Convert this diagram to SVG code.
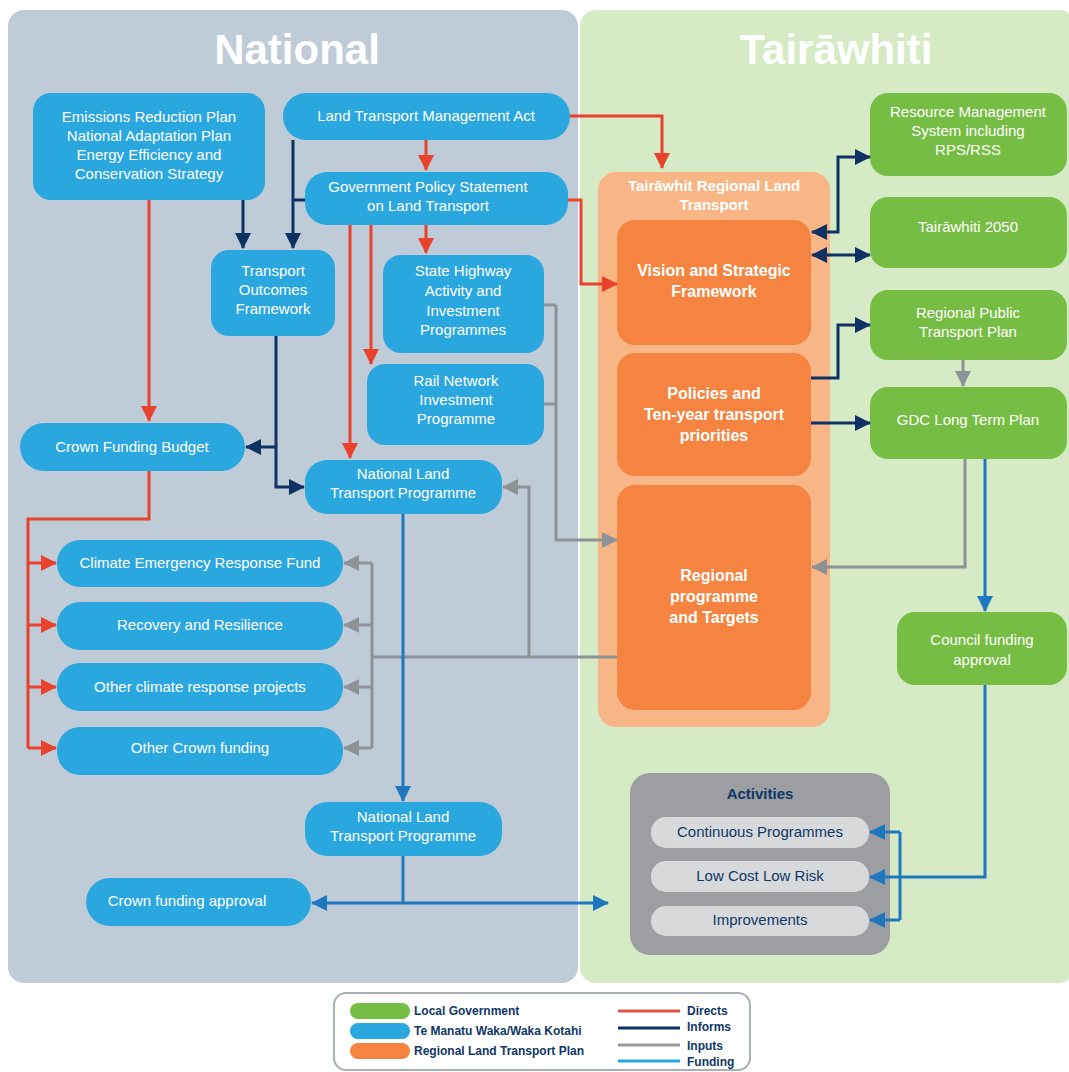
<svg xmlns="http://www.w3.org/2000/svg" width="1069" height="1072" viewBox="0 0 1069 1072">
<style>
text{font-family:"Liberation Sans Narrow","Liberation Sans","DejaVu Sans Condensed",sans-serif;text-anchor:middle}
.t{fill:#fff;font-size:15px}
.tb{fill:#fff;font-size:16px;font-weight:bold}
.title{fill:#fff;font-size:42px;font-weight:bold}
.blue{fill:#2aa7df}
.green{fill:#76bd43}
.orange{fill:#f4843f}
.act{fill:#0f3766;font-size:15px}
.lg{fill:#0f3766;font-size:12px;font-weight:bold;text-anchor:start}
.c{fill:none;stroke-width:3}
.r{stroke:#e8412c}
.n{stroke:#0d3263}
.g{stroke:#8d9297}
.f{stroke:#1e78c0}
</style>
<defs>
<marker id="ar" markerUnits="userSpaceOnUse" markerWidth="16" markerHeight="16" refX="15" refY="8" orient="auto"><path d="M0,0 L16,8 L0,16 z" fill="#e8412c"/></marker>
<marker id="an" markerUnits="userSpaceOnUse" markerWidth="16" markerHeight="16" refX="15" refY="8" orient="auto-start-reverse"><path d="M0,0 L16,8 L0,16 z" fill="#0d3263"/></marker>
<marker id="ag" markerUnits="userSpaceOnUse" markerWidth="16" markerHeight="16" refX="15" refY="8" orient="auto"><path d="M0,0 L16,8 L0,16 z" fill="#8d9297"/></marker>
<marker id="af" markerUnits="userSpaceOnUse" markerWidth="16" markerHeight="16" refX="15" refY="8" orient="auto-start-reverse"><path d="M0,0 L16,8 L0,16 z" fill="#1e78c0"/></marker>
</defs>
<rect width="1069" height="1072" fill="#fff"/>
<g id="panels">
<rect x="8" y="10" width="570" height="973" rx="16" fill="#bfccd8"/>
<rect x="580" y="10" width="495" height="973" rx="16" fill="#d5eac5"/>
<text class="title" x="297" y="64">National</text>
<text class="title" x="836" y="64">Tairāwhiti</text>
</g>
<g id="rltp">
<rect x="598" y="172" width="232" height="555" rx="18" fill="#f8b585"/>
<text class="t" x="714" y="191" font-weight="bold" font-size="14">Tairāwhit Regional Land</text>
<text class="t" x="714" y="210" font-weight="bold" font-size="14">Transport</text>
</g>
<g id="emissions"><rect class="blue" x="33" y="93" width="232" height="107" rx="18"/>
<text class="t" x="149" y="122">Emissions Reduction Plan</text><text class="t" x="149" y="141">National Adaptation Plan</text><text class="t" x="149" y="160">Energy Efficiency and</text><text class="t" x="149" y="179">Conservation Strategy</text></g>
<g id="ltma"><rect class="blue" x="283" y="93" width="287" height="47" rx="23"/>
<text class="t" x="426" y="121">Land Transport Management Act</text></g>
<g id="gps"><rect class="blue" x="305" y="172" width="263" height="53" rx="22"/>
<text class="t" x="428" y="192">Government Policy Statement</text><text class="t" x="428" y="211">on Land Transport</text></g>
<g id="tof"><rect class="blue" x="211" y="250" width="124" height="86" rx="18"/>
<text class="t" x="273" y="276">Transport</text><text class="t" x="273" y="295">Outcomes</text><text class="t" x="273" y="314">Framework</text></g>
<g id="sh"><rect class="blue" x="383" y="255" width="161" height="98" rx="18"/>
<text class="t" x="463" y="276">State Highway</text><text class="t" x="463" y="296">Activity and</text><text class="t" x="463" y="316">Investment</text><text class="t" x="463" y="335">Programmes</text></g>
<g id="rail"><rect class="blue" x="367" y="364" width="177" height="81" rx="18"/>
<text class="t" x="456" y="386">Rail Network</text><text class="t" x="456" y="405">Investment</text><text class="t" x="456" y="424">Programme</text></g>
<g id="cfb"><rect class="blue" x="20" y="423" width="225" height="48" rx="24"/>
<text class="t" x="132" y="452">Crown Funding Budget</text></g>
<g id="nltp1"><rect class="blue" x="305" y="460" width="197" height="54" rx="22"/>
<text class="t" x="403" y="479">National Land</text><text class="t" x="403" y="498">Transport Programme</text></g>
<g id="cerf"><rect class="blue" x="57" y="540" width="286" height="47" rx="23"/>
<text class="t" x="200" y="568">Climate Emergency Response Fund</text></g>
<g id="rr"><rect class="blue" x="57" y="602" width="286" height="48" rx="23"/>
<text class="t" x="200" y="630">Recovery and Resilience</text></g>
<g id="ocrp"><rect class="blue" x="57" y="663" width="286" height="48" rx="23"/>
<text class="t" x="200" y="692">Other climate response projects</text></g>
<g id="ocf"><rect class="blue" x="57" y="727" width="286" height="48" rx="23"/>
<text class="t" x="200" y="753">Other Crown funding</text></g>
<g id="nltp2"><rect class="blue" x="305" y="802" width="197" height="54" rx="22"/>
<text class="t" x="403" y="822">National Land</text><text class="t" x="403" y="841">Transport Programme</text></g>
<g id="cfa"><rect class="blue" x="86" y="878" width="225" height="48" rx="24"/>
<text class="t" x="187" y="906">Crown funding approval</text></g>
<g id="vision"><rect class="orange" x="617" y="220" width="194" height="125" rx="18"/>
<text class="tb" x="714" y="276">Vision and Strategic</text><text class="tb" x="714" y="297">Framework</text></g>
<g id="policies"><rect class="orange" x="617" y="353" width="194" height="123" rx="18"/>
<text class="tb" x="714" y="399">Policies and</text><text class="tb" x="714" y="420">Ten-year transport</text><text class="tb" x="714" y="441">priorities</text></g>
<g id="regional"><rect class="orange" x="617" y="485" width="194" height="225" rx="18"/>
<text class="tb" x="714" y="581">Regional</text><text class="tb" x="714" y="602">programme</text><text class="tb" x="714" y="623">and Targets</text></g>
<g id="rms"><rect class="green" x="870" y="93" width="197" height="83" rx="18"/>
<text class="t" x="968" y="117">Resource Management</text><text class="t" x="968" y="136">System including</text><text class="t" x="968" y="155">RPS/RSS</text></g>
<g id="t2050"><rect class="green" x="870" y="197" width="197" height="71" rx="18"/>
<text class="t" x="968" y="232">Tairāwhiti 2050</text></g>
<g id="rptp"><rect class="green" x="870" y="290" width="197" height="70" rx="18"/>
<text class="t" x="968" y="318">Regional Public</text><text class="t" x="968" y="337">Transport Plan</text></g>
<g id="gdc"><rect class="green" x="870" y="387" width="197" height="72" rx="18"/>
<text class="t" x="968" y="425">GDC Long Term Plan</text></g>
<g id="council"><rect class="green" x="897" y="612" width="170" height="73" rx="18"/>
<text class="t" x="982" y="645">Council funding</text><text class="t" x="982" y="665">approval</text></g>
<g id="activities"><rect x="630" y="773" width="260" height="182" rx="20" fill="#9c9ea1"/>
<text class="act" x="760" y="799" font-weight="bold">Activities</text>
<rect x="651" y="817" width="218" height="31" rx="15" fill="#d8d9db"/><text class="act" x="760" y="837">Continuous Programmes</text>
<rect x="651" y="861" width="218" height="31" rx="15" fill="#d8d9db"/><text class="act" x="760" y="881">Low Cost Low Risk</text>
<rect x="651" y="906" width="218" height="30" rx="15" fill="#d8d9db"/><text class="act" x="760" y="925">Improvements</text></g>
<g id="connectors">
<path class="c r" d="M426,140 V170" marker-end="url(#ar)"/>
<path class="c r" d="M570,116 H662 V168" marker-end="url(#ar)"/>
<path class="c r" d="M568,200 H581 V284 H617" marker-end="url(#ar)"/>
<path class="c r" d="M426,225 V253" marker-end="url(#ar)"/>
<path class="c r" d="M371,225 V364" marker-end="url(#ar)"/>
<path class="c r" d="M350,225 V458" marker-end="url(#ar)"/>
<path class="c r" d="M149,200 V421" marker-end="url(#ar)"/>
<path class="c r" d="M149,471 V519 H28 V748"/>
<path class="c r" d="M28,563 H56" marker-end="url(#ar)"/>
<path class="c r" d="M28,625 H56" marker-end="url(#ar)"/>
<path class="c r" d="M28,687 H56" marker-end="url(#ar)"/>
<path class="c r" d="M28,748 H56" marker-end="url(#ar)"/>
<path class="c n" d="M243,200 V248" marker-end="url(#an)"/>
<path class="c n" d="M293,140 V248" marker-end="url(#an)"/>
<path class="c n" d="M305,200 H293"/>
<path class="c n" d="M276,336 V487 H304" marker-end="url(#an)"/>
<path class="c n" d="M276,447 H246" marker-end="url(#an)"/>
<path class="c n" d="M812,232 H838 V157 H870" marker-start="url(#an)" marker-end="url(#an)"/>
<path class="c n" d="M812,255 H870" marker-start="url(#an)" marker-end="url(#an)"/>
<path class="c n" d="M811,378 H838 V325 H870" marker-end="url(#an)"/>
<path class="c n" d="M811,423 H870" marker-end="url(#an)"/>
<path class="c g" d="M963,360 V386" marker-end="url(#ag)"/>
<path class="c g" d="M965,459 V567 H812" marker-end="url(#ag)"/>
<path class="c g" d="M544,305 H556 M544,404 H556"/>
<path class="c g" d="M556,305 V540 H617" marker-end="url(#ag)"/>
<path class="c g" d="M617,657 H372 M372,563 V748"/>
<path class="c g" d="M529,657 V487 H503" marker-end="url(#ag)"/>
<path class="c g" d="M372,563 H344" marker-end="url(#ag)"/>
<path class="c g" d="M372,625 H344" marker-end="url(#ag)"/>
<path class="c g" d="M372,687 H344" marker-end="url(#ag)"/>
<path class="c g" d="M372,748 H344" marker-end="url(#ag)"/>
<path class="c f" d="M403,514 V801" marker-end="url(#af)"/>
<path class="c f" d="M403,856 V903"/>
<path class="c f" d="M312,903 H608" marker-start="url(#af)" marker-end="url(#af)"/>
<path class="c f" d="M985,459 V611" marker-end="url(#af)"/>
<path class="c f" d="M985,685 V877 H870" marker-end="url(#af)"/>
<path class="c f" d="M900,832 V920"/>
<path class="c f" d="M900,832 H870" marker-end="url(#af)"/>
<path class="c f" d="M900,920 H870" marker-end="url(#af)"/>
</g>
<g id="legend"><rect x="334" y="993" width="416" height="77" rx="12" fill="#fff" stroke="#a7afb7" stroke-width="2"/>
<rect x="350" y="1003" width="60" height="16" rx="8" fill="#76bd43"/><text class="lg" x="414" y="1015">Local Government</text>
<rect x="350" y="1023" width="60" height="16" rx="8" fill="#2aa7df"/><text class="lg" x="414" y="1035">Te Manatu Waka/Waka Kotahi</text>
<rect x="350" y="1043" width="60" height="16" rx="8" fill="#f4843f"/><text class="lg" x="414" y="1055">Regional Land Transport Plan</text>
<line x1="618" y1="1011" x2="680" y2="1011" stroke="#e05045" stroke-width="3"/><text class="lg" x="687" y="1015">Directs</text>
<line x1="618" y1="1028" x2="680" y2="1028" stroke="#0d3263" stroke-width="3"/><text class="lg" x="687" y="1031">Informs</text>
<line x1="618" y1="1045" x2="680" y2="1045" stroke="#9a9a9a" stroke-width="3"/><text class="lg" x="687" y="1050">Inputs</text>
<line x1="618" y1="1061" x2="680" y2="1061" stroke="#2aa7df" stroke-width="3"/><text class="lg" x="687" y="1066">Funding</text></g>
</svg>
